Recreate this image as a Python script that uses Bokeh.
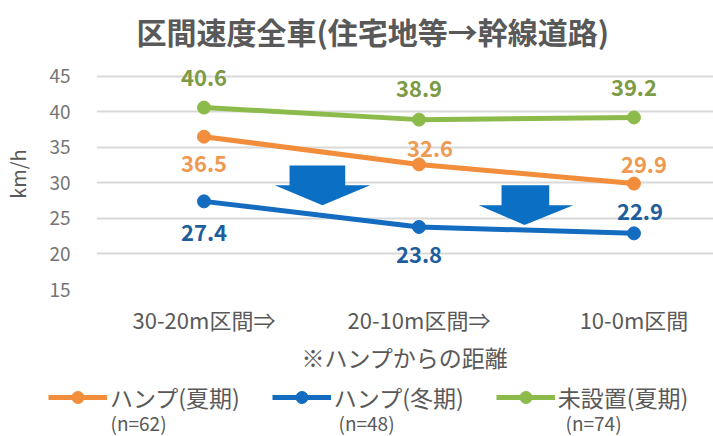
from bokeh.plotting import figure
from bokeh.layouts import column
from bokeh.models import (Range1d, FixedTicker, ColumnDataSource, LabelSet, Label,
                          Legend, LegendItem, PolyAnnotation)
from bokeh.core.properties import value
from bokeh.embed import file_html
from bokeh.resources import INLINE

# ---- data ----
categories = ["30-20m区間⇒", "20-10m区間⇒", "10-0m区間"]
hump_summer = [36.5, 32.6, 29.9]
hump_winter = [27.4, 23.8, 22.9]
no_hump_summer = [40.6, 38.9, 39.2]
series_names = ["ハンプ(夏期)", "ハンプ(冬期)", "未設置(夏期)"]
sample_sizes = ["(n=62)", "(n=48)", "(n=74)"]
y_ticks = [15, 20, 25, 30, 35, 40, 45]
title_text = "区間速度全車(住宅地等→幹線道路)"
x_title = "※ハンプからの距離"
y_title = "km/h"

xs = list(range(len(categories)))

FONT = "Noto Sans CJK JP"
ORANGE, ORANGE_T = "#F18D3B", "#EE9A52"
BLUE, BLUE_T = "#136CBF", "#1F5E9C"
GREEN, GREEN_T = "#8CBB4C", "#7D9A45"
ARROW = "#0B6FC4"

p = figure(width=713, height=376, x_range=Range1d(-0.5, 2.37), y_range=Range1d(15, 47.5),
           output_backend="svg", toolbar_location=None,
           min_border_left=93, min_border_right=0, min_border_top=57, min_border_bottom=86)
p.outline_line_color = None
p.background_fill_color = "white"
p.border_fill_color = "white"

# title
p.title.text = title_text
p.title.align = "left"
p.title.offset = 40
p.title.text_font = FONT
p.title.text_font_size = "30px"
p.title.text_font_style = "bold"
p.title.text_color = "#595959"
p.title.standoff = 12

# axes
p.xgrid.visible = False
p.ygrid.grid_line_color = "#D9D9D9"
p.ygrid.grid_line_width = 2
p.yaxis.ticker = FixedTicker(ticks=y_ticks)
p.yaxis.axis_line_color = None
p.yaxis.major_tick_line_color = None
p.yaxis.minor_tick_line_color = None
p.yaxis.major_label_text_font = FONT
p.yaxis.major_label_text_font_size = "19px"
p.yaxis.major_label_text_color = "#757575"
p.yaxis.major_label_standoff = 20
p.yaxis.axis_label = y_title
p.yaxis.axis_label_text_font = FONT
p.yaxis.axis_label_text_font_size = "20px"
p.yaxis.axis_label_text_font_style = "normal"
p.yaxis.axis_label_text_color = "#595959"
p.yaxis.axis_label_standoff = 14

p.xaxis.ticker = FixedTicker(ticks=xs)
p.xaxis.major_label_overrides = {i: c for i, c in zip(xs, categories)}
p.xaxis.axis_line_color = None
p.xaxis.major_tick_line_color = None
p.xaxis.minor_tick_line_color = None
p.xaxis.major_tick_out = 0
p.xaxis.major_tick_in = 0
p.xaxis.major_label_text_font = FONT
p.xaxis.major_label_text_font_size = "22px"
p.xaxis.major_label_text_color = "#595959"
p.xaxis.major_label_standoff = 13
p.xaxis.axis_label = x_title
p.xaxis.axis_label_text_font = FONT
p.xaxis.axis_label_text_font_size = "23px"
p.xaxis.axis_label_text_font_style = "normal"
p.xaxis.axis_label_text_color = "#595959"
p.xaxis.axis_label_standoff = 2

# arrows (decorative annotations)
arrow_shapes = [
    ([0.398, 0.657, 0.657, 0.773, 0.551, 0.329, 0.398], [32.45, 32.45, 29.66, 29.66, 26.87, 29.66, 29.66]),
    ([1.384, 1.606, 1.606, 1.718, 1.491, 1.278, 1.384], [29.66, 29.66, 26.87, 26.87, 24.08, 26.87, 26.87]),
]
for ax, ay in arrow_shapes:
    p.add_layout(PolyAnnotation(xs=ax, ys=ay, fill_color=ARROW, fill_alpha=1.0, line_color=None))

series = [
    (hump_summer, ORANGE, ORANGE_T, [0, 11, 10], [-27, 16, 19]),
    (hump_winter, BLUE, BLUE_T, [0, 0, 6], [-31, -28, 22]),
    (no_hump_summer, GREEN, GREEN_T, [0, 0, 0], [30, 31, 30]),
]
for i, (vals, col, tcol, xo, yo) in enumerate(series):
    src = ColumnDataSource(dict(x=xs, y=vals, t=[f"{v:.1f}" for v in vals], xo=xo, yo=yo))
    p.line("x", "y", source=src, line_color=col, line_width=5)
    p.scatter("x", "y", source=src, size=13, fill_color=col, line_color=col)
    p.add_layout(LabelSet(x="x", y="y", text="t", source=src, x_offset="xo", y_offset="yo",
                          text_align="center", text_baseline="middle",
                          text_font=value(FONT), text_font_size="22px", text_font_style="bold",
                          text_color=tcol))

# ---- legend strip ----
lf = figure(width=713, height=60, x_range=Range1d(0, 1), y_range=Range1d(0, 1),
            output_backend="svg", toolbar_location=None,
            x_axis_location=None, y_axis_location=None,
            min_border_left=0, min_border_right=0, min_border_top=0, min_border_bottom=0)
lf.outline_line_color = None
lf.grid.visible = False
lf.border_fill_color = "white"
for fig in (p, lf):
    if "frame_align" in fig.properties():
        fig.frame_align = False

legend_items = []
for i, (vals, col, tcol, xo, yo) in enumerate(series):
    # legend-only renderers, kept outside the visible range of the strip
    ln = lf.line(x=[-10, -9], y=[-10, -10], line_color=col, line_width=5)
    sc = lf.scatter(x=[-10], y=[-10], size=13, fill_color=col, line_color=col)
    legend_items.append(LegendItem(label=series_names[i], renderers=[ln, sc]))

lg = Legend(items=legend_items, location=(48, 22), orientation="horizontal",
            padding=0, margin=0, spacing=32, glyph_width=59, glyph_height=30,
            label_height=30, label_standoff=3,
            label_text_font=FONT, label_text_font_size="23px",
            label_text_color="#595959", label_text_baseline="middle",
            border_line_color=None, background_fill_alpha=0)
lf.add_layout(lg)

nlabel_x = [110, 338, 565]
for i in range(3):
    lf.add_layout(Label(x=nlabel_x[i], y=14, x_units="screen", y_units="screen",
                        text=sample_sizes[i], text_font=FONT, text_font_size="19px",
                        text_color="#595959", text_baseline="middle", text_align="left"))

layout = column(p, lf, spacing=0)
open("out.html", "w").write(file_html(layout, INLINE))
